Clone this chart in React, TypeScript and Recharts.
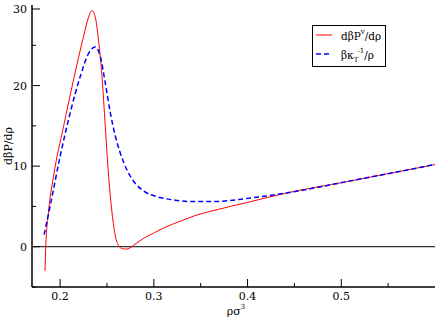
import React from "react";
import { LineChart, Line, XAxis, YAxis, ReferenceLine } from "recharts";

const W = 436;
const H = 319;
const FONT = "'DejaVu Serif', 'Liberation Serif', 'Times New Roman', Times, serif";
const TXT = { fontFamily: FONT, fontSize: 11, fill: "#000" };
const LEG = { fontFamily: FONT, fontSize: 10.5, fill: "#000" };
const SUP = { fontSize: 7 };

// red: dβP^v/dρ
const redX = [0.1839, 0.1847, 0.1875, 0.1929, 0.2036, 0.2143, 0.225, 0.2304, 0.234, 0.2375, 0.241, 0.2447, 0.2482, 0.2518, 0.2554, 0.259, 0.2625, 0.2665, 0.2705, 0.2745, 0.2786, 0.29, 0.3, 0.31, 0.329, 0.345, 0.364, 0.4, 0.443, 0.507, 0.6];
const redY = [-3.0, 0.0, 4.2, 8.7, 14.9, 20.7, 26.1, 28.5, 29.3, 28.5, 25.6, 21.1, 14.9, 8.7, 4.2, 1.3, 0.1, -0.25, -0.3, -0.15, 0.2, 1.1, 1.7, 2.3, 3.2, 3.9, 4.5, 5.5, 6.7, 8.1, 10.2];

// blue dashed: βκT^-1/ρ
const blueX = [0.1829, 0.1893, 0.2, 0.2107, 0.2214, 0.2304, 0.2375, 0.2429, 0.2482, 0.2536, 0.259, 0.2643, 0.2714, 0.2786, 0.2893, 0.3036, 0.3214, 0.3393, 0.364, 0.4, 0.443, 0.507, 0.6];
const blueY = [1.5, 5.0, 11.2, 16.6, 21.1, 24.0, 24.8, 23.6, 20.3, 16.6, 13.7, 11.6, 9.5, 8.1, 6.9, 6.2, 5.8, 5.6, 5.6, 6.0, 6.7, 8.1, 10.2];

const xTicks = [0.2, 0.25, 0.3, 0.35, 0.4, 0.45, 0.5, 0.55];
const xMajor = [0.2, 0.3, 0.4, 0.5];
const yTicks = [-5, 0, 5, 10, 15, 20, 25, 30];
const yMajor = [0, 10, 20, 30];

const red = redX.map((x, i) => ({ x, y: redY[i] }));
const blue = blueX.map((x, i) => ({ x, y: blueY[i] }));

const isMajor = (list: number[], v: number) => list.some((m) => Math.abs(m - v) < 1e-9);

function BottomTick(props: any) {
  const { x, y, payload } = props;
  const major = isMajor(xMajor, payload.value);
  return (
    <g>
      <line x1={x} y1={y} x2={x} y2={y - (major ? 8 : 4)} stroke="#000" strokeWidth={1} />
      {major && (
        <text x={x} y={y + 13} textAnchor="middle" style={TXT}>
          {payload.value}
        </text>
      )}
    </g>
  );
}

function TopTick(props: any) {
  const { x, y, payload } = props;
  const major = isMajor(xMajor, payload.value);
  return <line x1={x} y1={y} x2={x} y2={y + (major ? 8 : 4)} stroke="#000" strokeWidth={1} />;
}

function LeftTick(props: any) {
  const { x, y, payload } = props;
  const major = isMajor(yMajor, payload.value);
  return (
    <g>
      <line x1={x} y1={y} x2={x + (major ? 8 : 4)} y2={y} stroke="#000" strokeWidth={1} />
      {major && (
        <text x={x - 5} y={y + 4} textAnchor="end" style={TXT}>
          {payload.value}
        </text>
      )}
    </g>
  );
}

function RightTick(props: any) {
  const { x, y, payload } = props;
  const major = isMajor(yMajor, payload.value);
  return <line x1={x} y1={y} x2={x - (major ? 8 : 4)} y2={y} stroke="#000" strokeWidth={1} />;
}

export default function App() {
  return (
    <div style={{ position: "absolute", left: 0, top: 0, width: W, height: H, background: "#fff" }}>
      <LineChart width={W} height={H} margin={{ top: 5, right: 1, bottom: 0, left: 0 }}>
        <XAxis
          xAxisId="b"
          type="number"
          dataKey="x"
          domain={[0.17, 0.6]}
          ticks={xTicks}
          allowDataOverflow
          height={32}
          tickSize={0}
          tickMargin={0}
          tick={<BottomTick />}
          axisLine={{ stroke: "#000", strokeWidth: 1.5 }}
        />
        <XAxis
          xAxisId="t"
          orientation="top"
          type="number"
          dataKey="x"
          domain={[0.17, 0.6]}
          ticks={xTicks}
          allowDataOverflow
          height={0}
          tickSize={0}
          tickMargin={0}
          tick={<TopTick />}
          axisLine={{ stroke: "#000", strokeWidth: 1.5 }}
        />
        <YAxis
          yAxisId="l"
          type="number"
          domain={[-5, 30]}
          ticks={yTicks}
          allowDataOverflow
          width={32}
          tickSize={0}
          tickMargin={0}
          tick={<LeftTick />}
          axisLine={{ stroke: "#000", strokeWidth: 1.5 }}
        />
        <YAxis
          yAxisId="r"
          orientation="right"
          type="number"
          domain={[-5, 30]}
          ticks={yTicks}
          allowDataOverflow
          width={0}
          tickSize={0}
          tickMargin={0}
          tick={<RightTick />}
          axisLine={{ stroke: "#000", strokeWidth: 1.5 }}
        />
        <ReferenceLine xAxisId="b" yAxisId="l" y={0} stroke="#000" strokeWidth={1} />
        <Line
          xAxisId="b"
          yAxisId="l"
          data={red}
          dataKey="y"
          type="monotone"
          stroke="#ff0000"
          strokeWidth={1}
          dot={false}
          isAnimationActive={false}
        />
        <Line
          xAxisId="b"
          yAxisId="l"
          data={blue}
          dataKey="y"
          type="monotone"
          stroke="#0000ff"
          strokeWidth={1.5}
          strokeDasharray="5 3"
          dot={false}
          isAnimationActive={false}
        />
      </LineChart>
      <svg width={W} height={H} style={{ position: "absolute", left: 0, top: 0, pointerEvents: "none" }}>
        <text x={0} y={0} transform="translate(12,146) rotate(-90)" textAnchor="middle" style={TXT}>
          dβP/dρ
        </text>
        <text x={236} y={315} textAnchor="middle" style={TXT}>
          ρσ<tspan style={SUP} dy={-6}>3</tspan>
        </text>
        <rect x={312.5} y={25.5} width={73} height={41} fill="#fff" stroke="#000" strokeWidth={1} />
        <line x1={316} y1={35} x2={332} y2={35} stroke="#ff0000" strokeWidth={1} />
        <text x={341} y={40} style={LEG}>
          dβP<tspan style={SUP} dy={-6}>v</tspan>
          <tspan dy={6}>/dρ</tspan>
        </text>
        <line x1={316} y1={54} x2={332} y2={54} stroke="#0000ff" strokeWidth={1.5} strokeDasharray="5 3" />
        <text x={341} y={59} style={LEG}>
          βκ<tspan style={SUP} dy={3}>T</tspan>
          <tspan style={SUP} dy={-9}>-1</tspan>
          <tspan dy={6}>/ρ</tspan>
        </text>
      </svg>
    </div>
  );
}
